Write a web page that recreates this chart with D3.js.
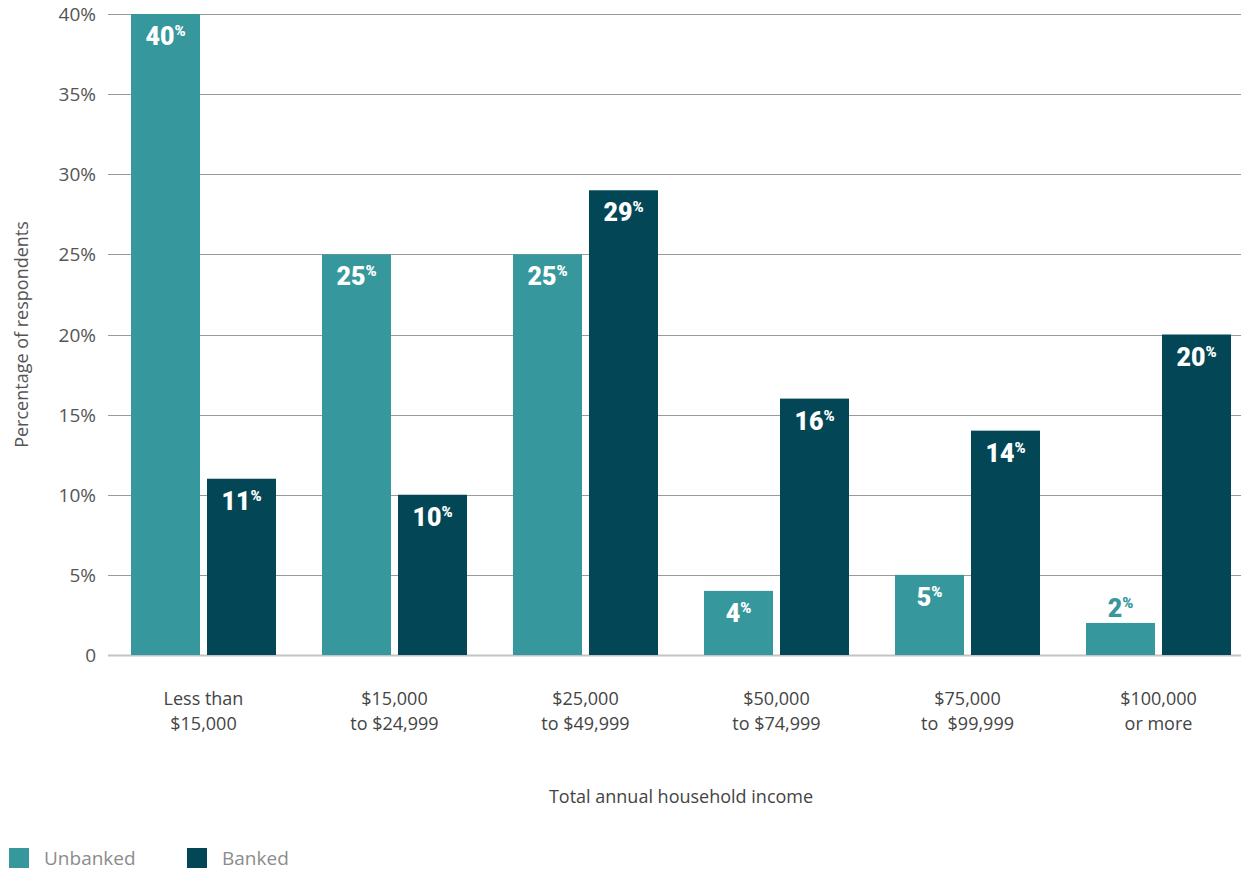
<!DOCTYPE html>
<html>
<head>
<meta charset="utf-8">
<script src="https://cdn.jsdelivr.net/npm/d3@7/dist/d3.min.js"></script>
<style>
  html, body { margin: 0; padding: 0; background: #fff; }
  svg { display: block; font-family: "Open Sans", Lato, sans-serif; }
</style>
</head>
<body>
<svg id="chart" width="1241" height="871"></svg>
<script>
const categories = [
  ["Less than", "$15,000"],
  ["$15,000", "to $24,999"],
  ["$25,000", "to $49,999"],
  ["$50,000", "to $74,999"],
  ["$75,000", "to  $99,999"],
  ["$100,000", "or more"]
];
const seriesNames = ["Unbanked", "Banked"];
const unbanked = [40, 25, 25, 4, 5, 2];
const banked = [11, 10, 29, 16, 14, 20];
const yTicks = [0, 5, 10, 15, 20, 25, 30, 35, 40];
const yTickLabels = ["0", "5%", "10%", "15%", "20%", "25%", "30%", "35%", "40%"];
const colors = { Unbanked: "#36979c", Banked: "#034756" };
const yTitle = "Percentage of respondents";
const xTitle = "Total annual household income";

const svg = d3.select("#chart");
const W = 1241;
const plot = { left: 108, right: 1254, top: 14, bottom: 655 };

const catKeys = categories.map(c => c.join(" "));
const x0 = d3.scaleBand().domain(catKeys).range([plot.left, plot.right]).padding(0);
const x1 = d3.scaleBand().domain(seriesNames).range([23, 168]).paddingInner(0.092);
const y = d3.scaleLinear().domain([0, 40]).range([plot.bottom, plot.top]);

// gridlines
svg.append("g").selectAll("line").data(yTicks).join("line")
  .attr("x1", plot.left).attr("x2", W)
  .attr("y1", d => Math.round(y(d)) + 0.5).attr("y2", d => Math.round(y(d)) + 0.5)
  .attr("stroke", d => d === 0 ? "#c4c4c4" : "#9a9a9a")
  .attr("stroke-width", d => d === 0 ? 2 : 1);

// y tick labels
svg.append("g").selectAll("text").data(yTicks).join("text")
  .attr("x", 96).attr("y", d => y(d) + 7)
  .attr("text-anchor", "end")
  .attr("font-size", 19).attr("fill", "#555")
  .text((d, i) => yTickLabels[i]);

// y title
svg.append("text")
  .attr("transform", `translate(28,${(plot.top + plot.bottom) / 2}) rotate(-90)`)
  .attr("text-anchor", "middle").attr("font-size", 18).attr("fill", "#555")
  .text(yTitle);

const data = catKeys.map((k, i) => ({ key: k, values: [
  { s: "Unbanked", v: unbanked[i] },
  { s: "Banked", v: banked[i] }
]}));

const groups = svg.append("g").selectAll("g").data(data).join("g")
  .attr("transform", d => `translate(${x0(d.key)},0)`);

groups.selectAll("rect").data(d => d.values).join("rect")
  .attr("x", d => x1(d.s)).attr("width", x1.bandwidth())
  .attr("y", d => y(d.v)).attr("height", d => y(0) - y(d.v))
  .attr("fill", d => colors[d.s]);

const lbl = groups.selectAll("text.val").data(d => d.values).join("text")
  .attr("class", "val")
  .attr("x", d => x1(d.s) + x1.bandwidth() / 2)
  .attr("y", d => d.v < 3 ? y(d.v) - 6 : y(d.v) + 31)
  .attr("text-anchor", "middle")
  .attr("font-family", "Roboto, Lato, sans-serif")
  .attr("font-weight", 900)
  .attr("font-size", 25)
  .attr("fill", d => d.v < 3 ? colors[d.s] : "#fff");
lbl.append("tspan").text(d => d.v);
lbl.append("tspan").attr("font-size", 15).attr("dy", -9).text("%");

// x category labels
const xl = svg.append("g").selectAll("text").data(categories).join("text")
  .attr("text-anchor", "middle")
  .attr("font-size", 18).attr("fill", "#444")
  .style("white-space", "pre");
xl.each(function(d, i) {
  const cx = x0(catKeys[i]) + x0.bandwidth() / 2;
  d3.select(this).selectAll("tspan").data(d).join("tspan")
    .attr("x", cx).attr("y", (t, j) => 705 + j * 25)
    .text(t => t);
});

// x title
svg.append("text")
  .attr("x", (plot.left + plot.right) / 2).attr("y", 803)
  .attr("text-anchor", "middle").attr("font-size", 18).attr("fill", "#444")
  .text(xTitle);

// legend
const legend = svg.append("g").selectAll("g").data(seriesNames).join("g")
  .attr("transform", (d, i) => `translate(${9 + i * 178},848)`);
legend.append("rect").attr("width", 20).attr("height", 20).attr("fill", d => colors[d]);
legend.append("text").attr("x", 35).attr("y", 17)
  .attr("font-size", 19).attr("fill", "#8c8c8c").text(d => d);
</script>
</body>
</html>
